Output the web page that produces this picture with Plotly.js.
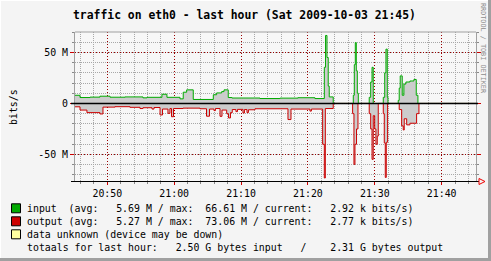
<!DOCTYPE html>
<html>
<head>
<meta charset="utf-8">
<script src="https://cdn.plot.ly/plotly-3.0.1.min.js"></script>
<style>
html,body{margin:0;padding:0;background:#f4f4f4;}
#chart{width:491px;height:261px;}
</style>
</head>
<body>
<div id="chart"></div>
<script>
// ---------- data (values in M bits/s) ----------
const day = '2009-10-03 ';
const inTimes = ['20:45:00','20:45:55','20:47:25','20:48:54','20:50:24','20:52:39','20:55:20','20:55:56',
  '20:58:10','20:58:55','21:00:52','21:01:21','21:01:52','21:02:51','21:05:51','21:06:21','21:07:06',
  '21:07:27','21:08:05','21:08:38','21:12:50','21:15:49','21:18:30','21:21:03','21:22:27','21:22:38',
  '21:22:51','21:23:02','21:23:11','21:23:47','21:26:47','21:26:56','21:27:05','21:27:14','21:27:23',
  '21:27:32','21:29:10','21:29:23','21:29:35','21:29:46','21:31:16','21:31:29','21:31:40','21:31:52',
  '21:31:58','21:33:30','21:33:39','21:33:48','21:34:06','21:34:21','21:34:39','21:35:15','21:35:51',
  '21:36:12','21:36:27','21:46:00'];
const inValues = [8.0,5.8,6.2,7.1,6.1,6.4,5.5,6.0,
  9.0,6.0,4.5,11.0,13.3,3.9,8.5,10.3,11.6,
  13.3,5.8,5.3,4.8,5.2,5.6,4.8,35.4,66.61,
  45,17,6.4,0,8,38,59.6,32,10,
  0,6,21,35.4,0,6,30,53.2,6,
  0,3,15,27,8,19,21,22,23.5,
  8,0,0];

const outTimes = ['20:45:00','20:45:55','20:46:57','20:48:54','20:49:21','20:51:09','20:53:23','20:54:53',
  '20:55:20','20:56:41','20:56:59','20:57:53','20:58:15','20:59:04','20:59:22','20:59:36','20:59:54',
  '21:01:19','21:03:51','21:04:50','21:05:17','21:05:57','21:06:10','21:06:51','21:07:09','21:07:51',
  '21:08:07','21:08:25','21:08:41','21:09:14','21:09:28','21:10:17','21:10:30','21:10:53','21:11:06',
  '21:12:05','21:17:01','21:17:28','21:20:18','21:20:31','21:22:12','21:22:27','21:22:36','21:23:47',
  '21:26:41','21:26:53','21:27:02','21:27:16','21:27:29','21:29:10','21:29:23','21:29:35','21:29:46',
  '21:29:59','21:30:10','21:30:22','21:30:31','21:31:16','21:31:25','21:31:34','21:31:43','21:31:55',
  '21:33:39','21:34:01','21:34:15','21:34:24','21:34:46','21:35:15','21:36:15','21:36:36','21:46:00'];
const outValues = [3.3,6.5,9.0,10.3,3.6,3.2,3.8,5.0,
  4.2,5.5,4.0,11.3,5.5,9.7,5.0,13.0,5.0,
  4.6,5.2,12.5,5.5,7.0,5.0,12.6,6.5,10.0,
  14.2,9.0,6.0,8.0,5.8,9.4,6.0,9.0,6.2,
  5.2,15.8,5.5,7.5,5.5,40,73.06,5.0,0,
  10,59.7,40,25,0,10,25,54.8,12,
  25,40,32,0,10,38.7,72.5,38,0,
  6,22,26,15,21,19.4,10,0,0];

const yTickVals = [-50, 0, 50];
const yTickText = ['-50 M', '0', '50 M'];

const titleText = 'traffic on eth0 - last hour (Sat 2009-10-03 21:45)';
const legendRows = [
  'input  (avg:   5.69 M / max:  66.61 M / current:   2.92 k bits/s)',
  'output (avg:   5.27 M / max:  73.06 M / current:   2.77 k bits/s)',
  'data unknown (device may be down)',
  'totaals for last hour:   2.50 G bytes input   /    2.31 G bytes output'
];
const legendColors = ['#00aa00', '#cc0000', '#ffffa0'];
const yTitle = 'bits/s';
const sideText = 'RRDTOOL / TOBI OETIKER';

// ---------- layout helpers ----------
const L = 75, T = 32, W = 401, H = 149;
const px = x => (x - L) / W;
const py = y => (T + H - y) / H;
const nb = s => s.replace(/ /g, '\u00a0');
const mono = 'DejaVu Sans Mono, monospace';

const GREEN = '#00aa00', RED = '#cc0000', FILL = '#cccccc';

const traces = [
  {
    x: inTimes.map(t => day + t), y: inValues,
    type: 'scatter', mode: 'lines', line: {shape: 'hv', color: GREEN, width: 1},
    fill: 'tozeroy', fillcolor: FILL, hoverinfo: 'skip'
  },
  {
    x: outTimes.map(t => day + t), y: outValues.map(v => -v),
    type: 'scatter', mode: 'lines', line: {shape: 'hv', color: RED, width: 1},
    fill: 'tozeroy', fillcolor: FILL, hoverinfo: 'skip'
  }
];

const shapes = [
  // zero line
  {type: 'line', xref: 'paper', yref: 'y', x0: px(71), x1: px(478), y0: 0, y1: 0,
   line: {color: '#000000', width: 1.5}, layer: 'above'},
  // bottom axis
  {type: 'line', xref: 'paper', yref: 'paper', x0: px(71), x1: px(479), y0: py(181.5), y1: py(181.5),
   line: {color: '#000000', width: 1}, layer: 'above'},
  // arrow
  {type: 'path', xref: 'paper', yref: 'paper',
   path: 'M ' + px(479) + ' ' + py(178.5) + ' L ' + px(479) + ' ' + py(184.5) + ' L ' + px(485) + ' ' + py(181.5) + ' Z',
   line: {color: '#ee0000', width: 1}, layer: 'above'},
  // top frame
  {type: 'line', xref: 'paper', yref: 'paper', x0: 0, x1: 1, y0: 1, y1: 1,
   line: {color: '#a0a0a0', width: 1}, layer: 'above'},
  // outer 3d border
  {type: 'line', xref: 'paper', yref: 'paper', x0: px(0), x1: px(491), y0: py(0.5), y1: py(0.5), line: {color: '#ffffff', width: 1}},
  {type: 'line', xref: 'paper', yref: 'paper', x0: px(0.5), x1: px(0.5), y0: py(0), y1: py(261), line: {color: '#ffffff', width: 1}},
  {type: 'line', xref: 'paper', yref: 'paper', x0: px(0), x1: px(491), y0: py(259.5), y1: py(259.5), line: {color: '#a0a0a0', width: 3}},
  {type: 'line', xref: 'paper', yref: 'paper', x0: px(489.5), x1: px(489.5), y0: py(0), y1: py(261), line: {color: '#a0a0a0', width: 3}}
];

const annotations = [
  {text: nb(titleText), xref: 'paper', yref: 'paper', x: px(244.5), y: py(14.5), xanchor: 'center', yanchor: 'middle',
   showarrow: false, font: {family: mono, size: 11.4, weight: 'bold', color: '#000'}},
  {text: yTitle, xref: 'paper', yref: 'paper', x: px(13), y: py(107), xanchor: 'center', yanchor: 'middle',
   textangle: -90, showarrow: false, font: {family: mono, size: 9.9, color: '#000'}},
  {text: nb(sideText), xref: 'paper', yref: 'paper', x: px(483.5), y: py(48.5), xanchor: 'center', yanchor: 'middle',
   textangle: 90, showarrow: false, font: {family: mono, size: 6.8, color: '#8c8c8c'}}
];
const rowY = [208.3, 221.3, 234.3, 247.3];
legendRows.forEach((s, i) => {
  annotations.push({text: nb(s), xref: 'paper', yref: 'paper', x: px(25), y: py(rowY[i]), xanchor: 'left', yanchor: 'middle',
    showarrow: false, font: {family: mono, size: 9.9, color: '#000'}});
});
legendColors.forEach((c, i) => {
  shapes.push({type: 'rect', xref: 'paper', yref: 'paper', x0: px(11.5), x1: px(20.5), y0: py(rowY[i] + 4.5), y1: py(rowY[i] - 4.5),
    line: {color: '#000', width: 1}, fillcolor: c});
});

const layout = {
  width: 491, height: 261,
  margin: {l: L, r: 491 - L - W, t: T, b: 261 - T - H, pad: 0},
  paper_bgcolor: '#f4f4f4', plot_bgcolor: '#f7f7f7',
  showlegend: false,
  xaxis: {
    type: 'date', range: [day + '20:45:10', day + '21:45:08'],
    tick0: day + '20:50:00', dtick: 600000, tickformat: '%H:%M',
    showgrid: true, gridcolor: '#990000', griddash: '1px,2px', gridwidth: 1,
    ticks: 'outside', ticklen: 3, tickcolor: '#cc0000', tickwidth: 1,
    tickfont: {family: mono, size: 9.9, color: '#000'},
    minor: {tick0: day + '20:50:00', dtick: 120000, showgrid: true, gridcolor: '#a8a8a8', griddash: '1px,1px',
            ticks: 'outside', ticklen: 2, tickcolor: '#888888'},
    showline: false, zeroline: false, fixedrange: true
  },
  yaxis: {
    range: [-76, 70], tickvals: yTickVals, ticktext: yTickText,
    showgrid: true, gridcolor: '#990000', griddash: '1px,2px', gridwidth: 1,
    ticks: 'outside', ticklen: 4, tickcolor: '#cc0000', tickwidth: 1,
    tickfont: {family: mono, size: 9.9, color: '#000'},
    minor: {dtick: 10, tick0: 0, showgrid: true, gridcolor: '#a8a8a8', griddash: '1px,1px',
            ticks: 'outside', ticklen: 2, tickcolor: '#888888'},
    showline: true, linecolor: '#a0a0a0', linewidth: 1, mirror: 'ticks',
    zeroline: false, fixedrange: true
  },
  shapes: shapes,
  annotations: annotations,
  hovermode: false
};

Plotly.newPlot('chart', traces, layout, {staticPlot: true, displayModeBar: false});
</script>
</body>
</html>
